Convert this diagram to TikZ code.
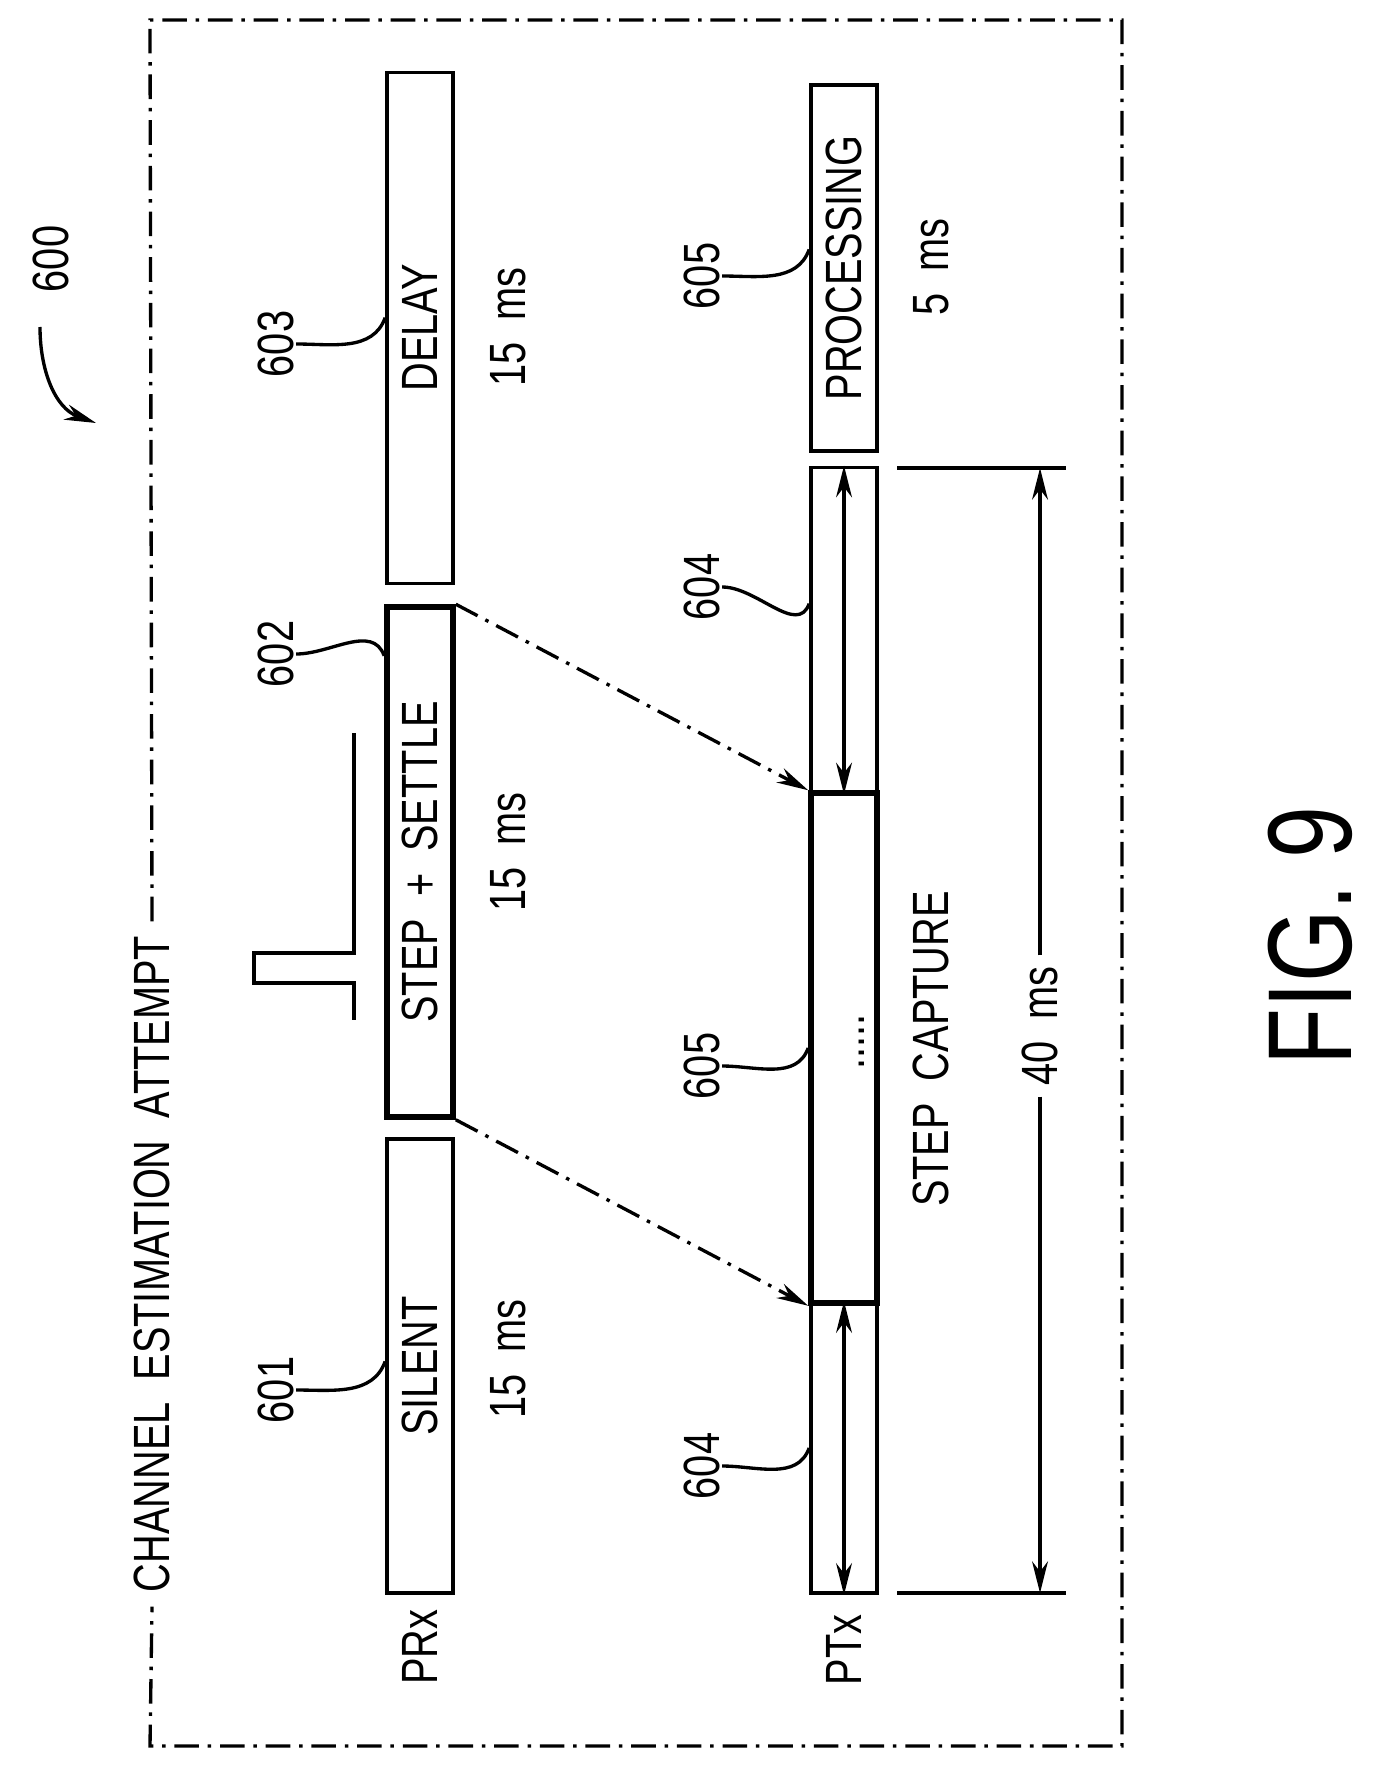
\documentclass[tikz,border=0pt]{standalone}
\usepackage{fontspec}
\setmainfont[FakeStretch=0.78]{Liberation Sans}
\usetikzlibrary{arrows.meta,positioning,calc}

\begin{document}
\begin{tikzpicture}[x=0.02cm,y=-0.02cm,
    Box/.style     = {draw, line width=2.1pt, rotate=90, inner sep=0pt, minimum height=1.32cm, font=\fontsize{29}{31}\selectfont},
    Heavy/.style   = {line width=3.2pt},
    Txt/.style     = {rotate=90, inner sep=1pt, font=\fontsize{29}{31}\selectfont},
    Ref/.style     = {Txt},
    Lead/.style    = {line width=1.9pt},
    DashDot/.style = {line width=1.9pt, dash pattern=on 14pt off 5pt on 2pt off 5pt},
    Tip/.style     = {-{Stealth[length=18pt,width=9pt]}},
    TwoTip/.style  = {{Stealth[length=18pt,width=9pt]}-{Stealth[length=18pt,width=9pt]}, line width=1.9pt}]
  \useasboundingbox (0,0) rectangle (1376,1770);

  % frame and title
  \node (title) at (152,1264) [Txt, fill=white, inner sep=8pt] {CHANNEL\ \ ESTIMATION\ \ ATTEMPT};
  \draw [DashDot] (title.east) -- (150,20) -- (1122,20) -- (1122,1746) -- (150,1746) -- (title.west);
  \node (n600) at (51,259) [Ref] {600};
  \coordinate (a600) at (96,423);
  \draw [Tip, Lead] (40,327) to[out=-90,in=160] (a600);

  % PRx row
  \node (prx) at (420,1647) [Txt] {PRx};
  \node (silent) at (420,1366) [Box, minimum width=9.08cm] {SILENT};
  \node (settle) at (420,862) [Box, Heavy, minimum width=10.2cm] {STEP\ \ +\ \ SETTLE};
  \node (delay)  at (420,328) [Box, minimum width=10.22cm] {DELAY};
  \node (t601) at (508,1359) [Txt] {15\ \ ms};
  \node (t602) at (508,852)  [Txt] {15\ \ ms};
  \node (t603) at (508,327)  [Txt] {15\ \ ms};
  \node (n601) at (276,1390) [Ref] {601};
  \node (n602) at (276,654)  [Ref] {602};
  \node (n603) at (276,344)  [Ref] {603};
  \draw [Lead] (n601.south) to[out=0,in=-110] ($(silent.north west)!0.51!(silent.north east)$);
  \draw [Lead] (n602.south) to[out=0,in=110] ($(settle.north west)!0.9!(settle.north east)$);
  \draw [Lead] (n603.south) to[out=0,in=-110] ($(delay.north west)!0.52!(delay.north east)$);

  % step pulse
  \draw [line width=2.1pt] (354,733) -- (354,953) -- (254,953) -- (254,983) -- (354,983) -- (354,1020);

  % PTx row
  \node (ptx) at (844,1650) [Txt] {PTx};
  \node (lead1) at (844,1448) [Box, minimum width=5.8cm] {};
  \node (cap)   at (844,1048) [Box, Heavy, minimum width=10.2cm] {};
  \node (lead2) at (844,630)  [Box, minimum width=6.5cm] {};
  \node (proc)  at (844,268)  [Box, minimum width=7.32cm] {PROCESSING};
  \node (dots)  at (862,1042) [Txt] {.....};
  \node (tcap)  at (931,1049) [Txt] {STEP\ \ CAPTURE};
  \node (tproc) at (931,267)  [Txt] {5\ \ ms};
  \draw [TwoTip] (lead1.west) -- (lead1.east);
  \draw [TwoTip] (lead2.west) -- (lead2.east);
  \node (n605a) at (702,276)  [Ref] {605};
  \node (n604a) at (702,587)  [Ref] {604};
  \node (n605b) at (702,1066) [Ref] {605};
  \node (n604b) at (702,1466) [Ref] {604};
  \draw [Lead] (n605a.south) to[out=0,in=-110] ($(proc.north west)!0.55!(proc.north east)$);
  \draw [Lead] (n604a.south) to[out=0,in=-110] ($(lead2.north west)!0.58!(lead2.north east)$);
  \draw [Lead] (n605b.south) to[out=0,in=-110] ($(cap.north west)!0.5!(cap.north east)$);
  \draw [Lead] (n604b.south) to[out=0,in=-110] ($(lead1.north west)!0.5!(lead1.north east)$);

  % mapping arrows
  \draw [DashDot, Tip] (settle.south east) -- (cap.north east);
  \draw [DashDot, Tip] (settle.south west) -- (cap.north west);

  % 40 ms dimension
  \draw [line width=1.9pt] (897,468) -- (1066,468);
  \draw [line width=1.9pt] (897,1593) -- (1066,1593);
  \node (t40) at (1040,1026) [Txt, fill=white, inner sep=6pt] {40\ \ ms};
  \coordinate (d1) at (1040,468);
  \coordinate (d2) at (1040,1593);
  \draw [Tip, line width=1.9pt] (t40.east) -- (d1);
  \draw [Tip, line width=1.9pt] (t40.west) -- (d2);

  \node (fig) at (1310,936) [Txt, font=\fontsize{68}{72}\selectfont] {FIG. 9};
\end{tikzpicture}
\end{document}
